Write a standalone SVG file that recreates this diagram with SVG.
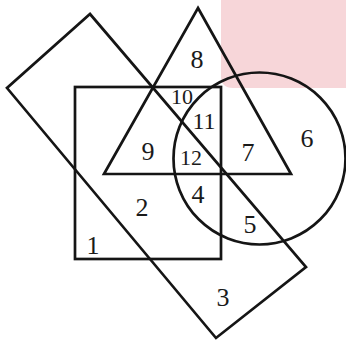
<svg xmlns="http://www.w3.org/2000/svg" width="346" height="341" viewBox="0 0 346 341">
<style>
.s{fill:none;stroke:#151515;stroke-width:2.7;stroke-linejoin:miter}
.t{font-family:"Liberation Serif","Times New Roman",serif;font-size:26px;fill:#1a1a1a;text-anchor:middle;dominant-baseline:central}
.m{font-size:24px}
.k{font-size:22px}
</style>
<rect width="346" height="341" fill="#ffffff"/>
<path d="M221 0 H346 V88 H233 Q221 88 221 76 Z" fill="#f7d6d9"/>
<g id="shapes">
<polygon id="band" class="s" points="90,14 306,267 216,338 7,88"/>
<rect id="square" class="s" x="75" y="87" width="146" height="172"/>
<polygon id="triangle" class="s" points="198,8 291,174 104,174"/>
<circle id="circle" class="s" cx="259.5" cy="158.5" r="86"/>
</g>
<g id="labels">
<text class="t" x="197" y="59">8</text>
<text class="t k" x="182" y="96">10</text>
<text class="t m" x="204" y="121">11</text>
<text class="t k" x="191" y="157">12</text>
<text class="t" x="148" y="151">9</text>
<text class="t" x="248" y="152">7</text>
<text class="t" x="307" y="138">6</text>
<text class="t" x="198" y="194">4</text>
<text class="t" x="250" y="224">5</text>
<text class="t" x="142" y="207">2</text>
<text class="t" x="93" y="245">1</text>
<text class="t" x="223" y="297">3</text>
</g>
</svg>
